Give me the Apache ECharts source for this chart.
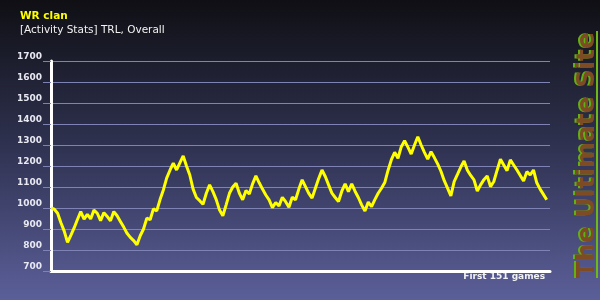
<!DOCTYPE html>
<html><head><meta charset="utf-8">
<script src="https://cdn.jsdelivr.net/npm/echarts@6/dist/echarts.min.js"></script>
<style>html,body{margin:0;padding:0;background:#000}#c{width:600px;height:300px}</style>
</head><body><div id="c"></div>
<script>
const titleText = 'WR clan';
const subtitleText = '[Activity Stats] TRL, Overall';
const footerText = 'First 151 games';
const brandText = 'The Ultimate Site';
const yTicks = [700, 800, 900, 1000, 1100, 1200, 1300, 1400, 1500, 1600, 1700];
const ratings = [
  1000, 994, 975, 930, 890, 836, 870, 905, 945, 983,
  947, 970, 948, 990, 975, 940, 978, 960, 939, 983,
  963, 936, 909, 880, 860, 845, 825, 868, 900, 952,
  944, 996, 986, 1040, 1086, 1142, 1180, 1213, 1181, 1215,
  1248, 1200, 1157, 1090, 1050, 1035, 1018, 1070, 1110, 1078,
  1040, 990, 963, 1015, 1070, 1100, 1118, 1070, 1039, 1083,
  1067, 1115, 1153, 1120, 1090, 1062, 1039, 1002, 1026, 1010,
  1051, 1030, 1004, 1051, 1039, 1090, 1134, 1102, 1070, 1047,
  1094, 1140, 1181, 1150, 1110, 1071, 1050, 1031, 1080, 1115,
  1078, 1115, 1080, 1050, 1015, 986, 1028, 1007, 1040, 1070,
  1094, 1121, 1180, 1230, 1265, 1237, 1292, 1320, 1290, 1257,
  1300, 1339, 1300, 1265, 1233, 1268, 1240, 1210, 1175, 1130,
  1095, 1058, 1126, 1160, 1195, 1224, 1180, 1155, 1134, 1081,
  1110, 1135, 1153, 1102, 1126, 1180, 1232, 1205, 1178, 1229,
  1205, 1181, 1155, 1129, 1173, 1157, 1181, 1120, 1090, 1065,
  1039
];
const gameIndex = ratings.map((_, i) => i);

const chart = echarts.init(document.getElementById('c'));
chart.setOption({
  animation: false,
  backgroundColor: {
    type: 'linear', x: 0, y: 0, x2: 0, y2: 1,
    colorStops: [
      { offset: 0, color: '#0f0f14' },
      { offset: 0.5, color: '#303352' },
      { offset: 1, color: '#5b5f99' }
    ]
  },
  title: {
    text: titleText,
    subtext: subtitleText,
    left: 20, top: 11, itemGap: 3, padding: 0,
    textStyle: { color: '#ffff00', fontWeight: 'bold', fontSize: 10.5, fontFamily: 'DejaVu Sans' },
    subtextStyle: { color: '#f2f2f2', fontSize: 10.5, fontFamily: 'DejaVu Sans' }
  },
  grid: { left: 51, right: 50, top: 61, bottom: 29 },
  xAxis: {
    type: 'value', min: 0, max: 151,
    axisLine: { show: true, onZero: false, lineStyle: { color: '#ffffff', width: 3 } },
    axisTick: { show: false }, axisLabel: { show: false }, splitLine: { show: false }
  },
  yAxis: {
    type: 'value', min: yTicks[0], max: yTicks[yTicks.length - 1], interval: 100,
    axisLine: { show: true, lineStyle: { color: '#ffffff', width: 3 } },
    axisTick: { show: true, length: 8, lineStyle: { color: '#7f82b4', width: 1 } },
    splitLine: { show: true, lineStyle: { color: '#7f82b4', width: 1 } },
    axisLabel: {
      color: '#e8e8f2', fontWeight: 'bold', fontSize: 9, fontFamily: 'DejaVu Sans',
      margin: 9, verticalAlign: 'bottom', lineHeight: 9,
      formatter: v => String(v)
    }
  },
  graphic: [
    {
      type: 'text', right: 55, top: 272,
      style: { text: footerText, fill: '#f2f2f2', font: 'bold 9px "DejaVu Sans"' }
    },
    {
      type: 'rect', shape: { x: 596, y: 31, width: 2, height: 247 },
      style: { fill: '#6fb81a' }, z: 1
    },
    {
      type: 'text', x: 587, y: 155, rotation: Math.PI / 2, z: 2,
      style: {
        text: brandText, fill: '#7d4c24', font: 'bold 25px "DejaVu Sans"',
        align: 'center', verticalAlign: 'middle',
        textShadowColor: '#63b015', textShadowOffsetX: -2, textShadowOffsetY: 0, textShadowBlur: 0.5
      }
    }
  ],
  series: [{
    type: 'line',
    data: gameIndex.map(i => [i, ratings[i]]),
    showSymbol: false,
    lineStyle: { color: '#ffff00', width: 3 },
    itemStyle: { color: '#ffff00' }
  }]
});
</script></body></html>
